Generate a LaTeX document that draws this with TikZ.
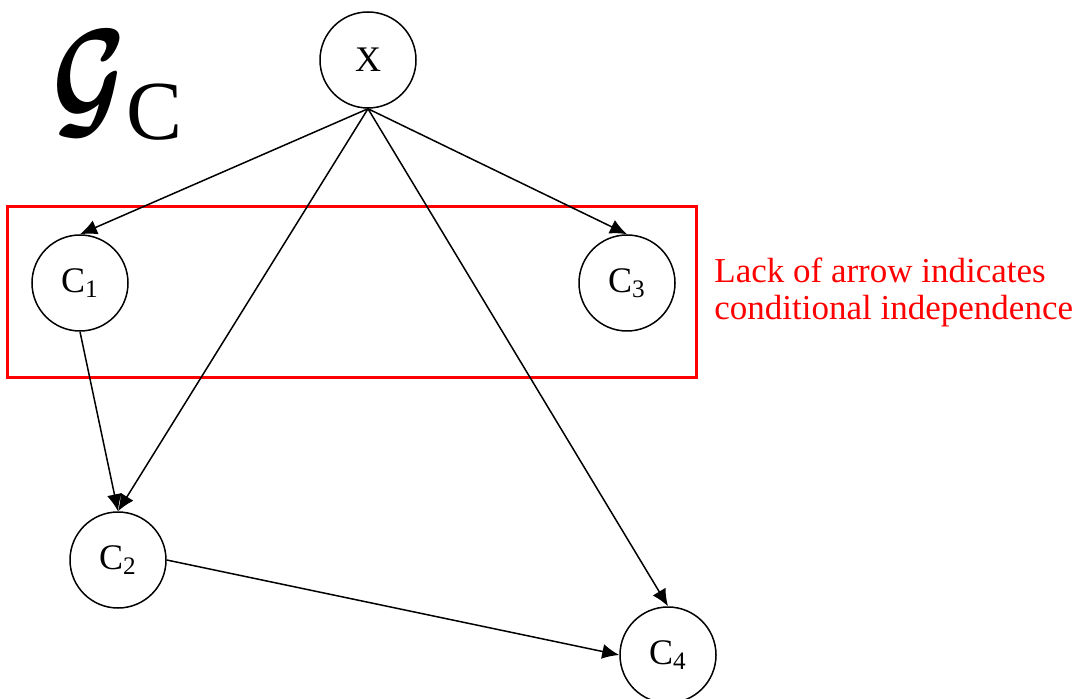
\documentclass[tikz,border=0pt]{standalone}
\usepackage{amsmath}
\usepackage{graphicx}
\usepackage{fontspec}
\setmainfont{Liberation Serif}
\usetikzlibrary{arrows.meta}
\begin{document}
\begin{tikzpicture}[x=0.5pt,y=-0.5pt,
  var/.style={draw,circle,line width=0.75pt,minimum size=48pt,inner sep=0pt,font=\fontsize{18}{20}\selectfont},
  edge/.style={line width=0.75pt,-{Latex[length=8.5pt,width=7.5pt]}},
  note/.style={text=red,font=\fontsize{17.5}{20}\selectfont,anchor=base west,inner sep=0pt}]
\useasboundingbox (0,0) rectangle (1085,699);
\node[var] (X) at (368,60) {X};
\node[var] (C1) at (80,283) {C\textsubscript{1}};
\node[var] (C3) at (627,283) {C\textsubscript{3}};
\node[var] (C2) at (118,560) {C\textsubscript{2}};
\node[var] (C4) at (668,655) {C\textsubscript{4}};
\node[anchor=north west,inner sep=2pt,font=\mathversion{bold}] (calG) at (48,26) {\resizebox*{37pt}{53pt}{$\mathcal{G}$}};
\node[anchor=base west,inner sep=0pt,font=\fontsize{42}{46}\selectfont] (calC) at (126,140) {C};
\draw[red,line width=1.5pt] (7,207) rectangle (696,378);
\node[note] (n1) at (714,283) {Lack of arrow indicates};
\node[note] (n2) at (714,320) {conditional independence};
\draw[edge] (X.south) -- (C1.north);
\draw[edge] (X.south) -- (C3.north);
\draw[edge] (X.south) -- (C2.north);
\draw[edge] (X.south) -- (C4.north);
\draw[edge] (C1.south) -- (C2.north);
\draw[edge] (C2.east) -- (C4.west);
\end{tikzpicture}
\end{document}
